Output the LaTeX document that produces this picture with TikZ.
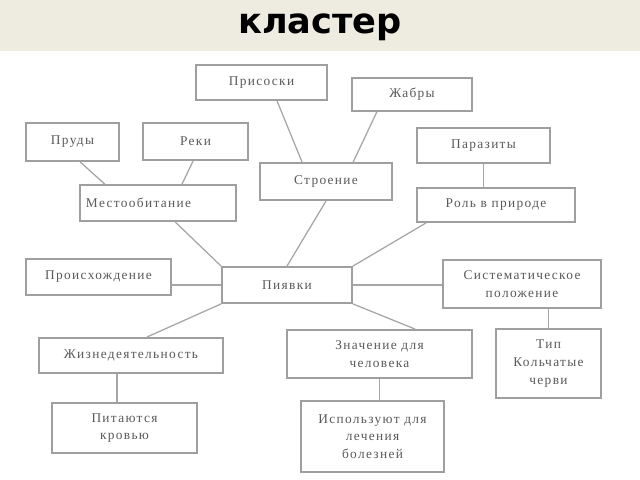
\documentclass[tikz,border=0pt]{standalone}
\usepackage{fontspec}
\setmainfont{Liberation Serif}
\newfontfamily\boxfont[LetterSpace=10]{Liberation Serif}
\newfontfamily\titlefont{DejaVu Sans}
\definecolor{bandcol}{HTML}{EEEBE1}
\begin{document}
\begin{tikzpicture}[x=0.025cm,y=-0.025cm,
 box/.style={draw=gray!75,line width=1.3pt,fill=white,align=center,inner sep=1pt,
  text=black!65,font=\boxfont\fontsize{9.5}{12.5}\selectfont},
 link/.style={draw=gray!70,line width=0.9pt}]
\useasboundingbox(0,0)rectangle(640,480);
%title
\fill[bandcol](0,0)rectangle(640,51);
\node[anchor=base,inner sep=0pt,font=\titlefont\bfseries\fontsize{25}{30}\selectfont](title)at(320,33){кластер};
%boxes
\node[box,minimum width=3.28cm,minimum height=0.88cm](prisoski)at(261.5,82.5){Присоски};
\node[box,minimum width=3cm,minimum height=0.83cm](zhabry)at(412,94.5){Жабры};
\node[box,minimum width=2.33cm,minimum height=0.95cm](prudy)at(72.5,142){Пруды};
\node[box,minimum width=2.63cm,minimum height=0.93cm](reki)at(195.5,141.5){Реки};
\node[box,minimum width=3.3cm,minimum height=0.93cm](stroenie)at(326,181.5){Строение};
\node[box,minimum width=3.33cm,minimum height=0.88cm](parazity)at(483.5,145.5){Паразиты};
\node[box,text width=3.6cm,inner xsep=0.15cm,align=left,minimum height=0.9cm](mesto)at(158,203){Местообитание};
\node[box,minimum width=3.95cm,minimum height=0.85cm](rol)at(496,205){Роль в природе};
\node[box,minimum width=3.63cm,minimum height=0.9cm](proish)at(98.5,277){Происхождение};
\node[box,minimum width=3.25cm,minimum height=0.9cm](piyavki)at(287,285){Пиявки};
\node[box,minimum width=3.95cm,minimum height=1.2cm](sistem)at(522,284){Систематическое\\положение};
\node[box,minimum width=4.6cm,minimum height=0.88cm](zhizn)at(131,355.5){Жизнедеятельность};
\node[box,minimum width=4.63cm,minimum height=1.2cm](znach)at(379.5,354){Значение для\\человека};
\node[box,minimum width=2.63cm,minimum height=1.73cm](tip)at(548.5,363.5){Тип\\Кольчатые\\черви};
\node[box,minimum width=3.63cm,minimum height=1.25cm](pitayut)at(124.5,428){Питаются\\кровью};
\node[box,minimum width=3.58cm,minimum height=1.78cm](ispolz)at(372.5,436.5){Используют для\\лечения\\болезней};
%links
\draw[link]([xshift=0.39cm]prisoski.south)--([xshift=-0.6cm]stroenie.north);
\draw[link]([xshift=-0.88cm]zhabry.south)--([xshift=0.68cm]stroenie.north);
\draw[link]([xshift=0.19cm]prudy.south)--([xshift=-1.33cm]mesto.north);
\draw[link]([xshift=-0.06cm]reki.south)--([xshift=0.6cm]mesto.north);
\draw[link](parazity.south)--(parazity.south|-rol.north);
\draw[link]([xshift=0.43cm]mesto.south)--(piyavki.north west);
\draw[link](stroenie.south)--(piyavki.north);
\draw[link]([xshift=0.25cm]rol.south west)--(piyavki.north east);
\draw[link](piyavki.west)--(piyavki.west-|proish.east);
\draw[link]([xshift=0.4cm]zhizn.north)--(piyavki.south west);
\draw[link](piyavki.east)--(piyavki.east-|sistem.west);
\draw[link](piyavki.south east)--([xshift=0.89cm]znach.north);
\draw[link](tip.north)--(tip.north|-sistem.south);
\draw[link]([xshift=-0.35cm]zhizn.south)--([xshift=-0.35cm]zhizn.south|-pitayut.north);
\draw[link](znach.south)--(znach.south|-ispolz.north);
\end{tikzpicture}
\end{document}
